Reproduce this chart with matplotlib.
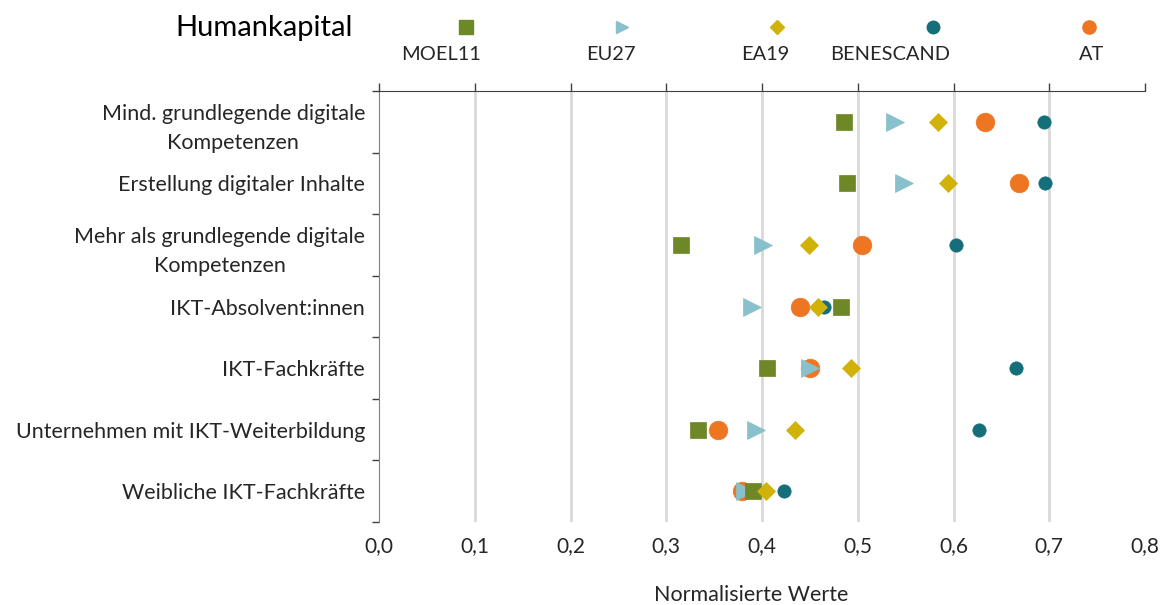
import matplotlib.pyplot as plt
from matplotlib.ticker import FuncFormatter

plt.rcParams["font.family"] = ["Lato", "DejaVu Sans"]

categories = [
    "Mind. grundlegende digitale\nKompetenzen",
    "Erstellung digitaler Inhalte",
    "Mehr als grundlegende digitale\nKompetenzen",
    "IKT-Absolvent:innen",
    "IKT-Fachkräfte",
    "Unternehmen mit IKT-Weiterbildung",
    "Weibliche IKT-Fachkräfte",
]
moel11 = [0.486, 0.489, 0.315, 0.483, 0.405, 0.333, 0.391]
eu27 = [0.539, 0.548, 0.401, 0.390, 0.450, 0.394, 0.382]
ea19 = [0.584, 0.594, 0.449, 0.459, 0.493, 0.434, 0.404]
benescand = [0.694, 0.696, 0.603, 0.465, 0.665, 0.627, 0.423]
at = [0.633, 0.668, 0.504, 0.440, 0.450, 0.354, 0.379]

series = {
    "MOEL11": moel11,
    "EU27": eu27,
    "EA19": ea19,
    "BENESCAND": benescand,
    "AT": at,
}
# marker, size, colour, zorder
styles = {
    "MOEL11": ("s", 11.5, "#6E8727", 4),
    "EU27": (">", 13, "#88C1CB", 3),
    "EA19": ("D", 9.2, "#D0B208", 5),
    "BENESCAND": ("o", 9.6, "#156F7B", 1),
    "AT": ("o", 13.4, "#EE7522", 2),
}

fig = plt.figure(figsize=(11.7, 6.05), dpi=100)
ax = fig.add_axes([379 / 1170, 1 - 522 / 605, 766 / 1170, 431 / 605])

y = list(range(len(categories)))
for name, vals in series.items():
    m, s, c, z = styles[name]
    ax.plot(vals, y, linestyle="none", marker=m, markersize=s, color=c,
            markeredgecolor=c, markeredgewidth=0.5, zorder=z + 2, clip_on=False)

ax.set_xlim(0, 0.8)
ax.set_ylim(len(categories) - 0.5, -0.5)
xt = [i / 10 for i in range(9)]
ax.set_xticks(xt)
ax.xaxis.set_major_formatter(FuncFormatter(lambda v, p: f"{v:.1f}".replace(".", ",")))
for v in xt[1:-1]:
    ax.axvline(v, color="#D9D9D9", lw=2, zorder=0)

ax.tick_params(axis="x", bottom=False, top=True, labelbottom=True, labeltop=False,
               direction="out", length=6, width=1, color="#404040",
               labelsize=15, labelcolor="#262626", pad=4)
ax.set_yticks(y)
ax.set_yticklabels(categories, multialignment="center", linespacing=1.55)
ax.set_yticks([i - 0.5 for i in range(len(categories) + 1)], minor=True)
ax.tick_params(axis="y", which="major", length=0, labelsize=15.5,
               labelcolor="#262626", pad=10)
ax.tick_params(axis="y", which="minor", length=5, width=1, color="#404040")

for side in ["right", "bottom"]:
    ax.spines[side].set_visible(False)
ax.spines["top"].set_color("#404040")
ax.spines["left"].set_color("#7F7F7F")

fig.text(751 / 1170, 1 - 595 / 605, "Normalisierte Werte", ha="center", va="center",
         fontsize=15.5, color="#262626")
fig.text(175 / 1170, 1 - 28 / 605, "Humankapital", ha="left", va="center",
         fontsize=21, color="black")

# legend row across the top
lax = fig.add_axes([0, 0, 1, 1])
lax.set_xlim(0, 1170)
lax.set_ylim(605, 0)
lax.axis("off")
marker_x = [466, 622, 777, 933, 1089]
label_x = [441, 611, 765, 890, 1092]
legend_sizes = {"MOEL11": 10, "EU27": 9, "EA19": 7.5, "BENESCAND": 9, "AT": 9.5}
for (name, _), mx, tx in zip(series.items(), marker_x, label_x):
    m, s, c, z = styles[name]
    lax.plot([mx], [27], marker=m, markersize=legend_sizes[name], color=c,
             linestyle="none")
    lax.text(tx, 55, name, ha="center", va="center", fontsize=14.4, color="#262626")

fig.savefig("out.png", dpi=100)
